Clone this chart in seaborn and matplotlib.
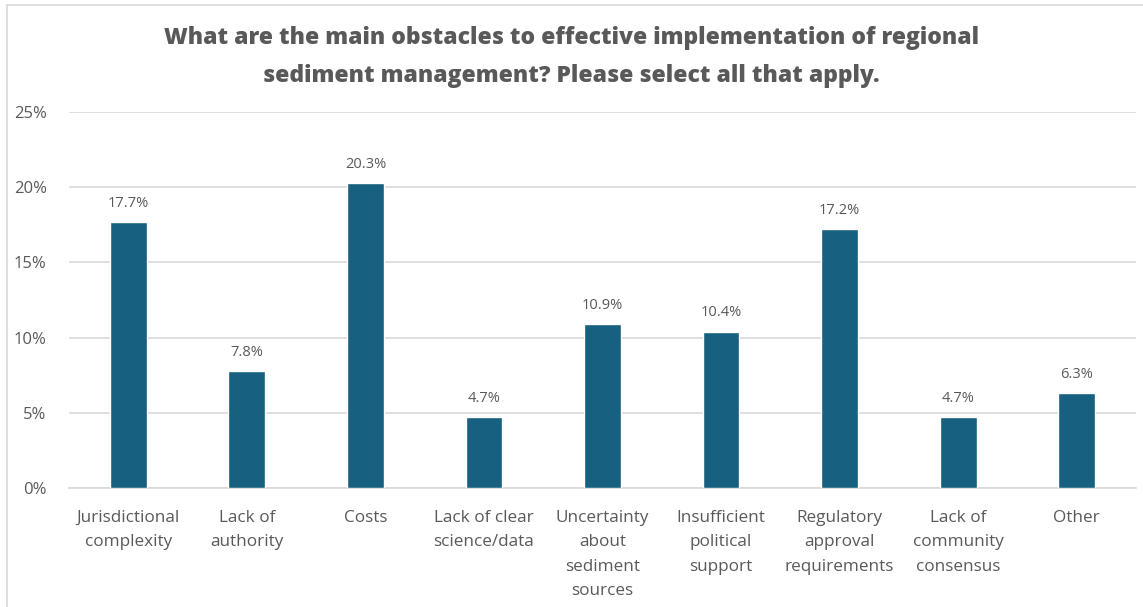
import matplotlib
matplotlib.use("Agg")
import matplotlib.pyplot as plt
import seaborn as sns
import pandas as pd
from matplotlib.lines import Line2D

categories = [
    "Jurisdictional\ncomplexity",
    "Lack of\nauthority",
    "Costs",
    "Lack of clear\nscience/data",
    "Uncertainty\nabout\nsediment\nsources",
    "Insufficient\npolitical\nsupport",
    "Regulatory\napproval\nrequirements",
    "Lack of\ncommunity\nconsensus",
    "Other",
]
values = [17.7, 7.8, 20.3, 4.7, 10.9, 10.4, 17.2, 4.7, 6.3]
y_ticks = [0, 5, 10, 15, 20, 25]
y_tick_labels = ["0%", "5%", "10%", "15%", "20%", "25%"]
title = ("What are the main obstacles to effective implementation of regional\n"
         "sediment management? Please select all that apply.")

df = pd.DataFrame({"category": categories, "value": values})

sns.set_theme(style="white")
plt.rcParams["font.family"] = ["Open Sans", "DejaVu Sans"]

text_color = "#595959"
bar_color = "#17607f"
grid_color = "#d9d9d9"

fig = plt.figure(figsize=(11.43, 6.07), dpi=100)
ax = fig.add_axes([69 / 1143, 1 - 488 / 607, (1136 - 69) / 1143, (488 - 112) / 607])

sns.barplot(data=df, x="category", y="value", color=bar_color, width=0.31,
            saturation=1, ax=ax, zorder=3)

ax.set_ylim(0, 25)
ax.set_yticks(y_ticks)
ax.set_yticklabels(y_tick_labels)
ax.yaxis.grid(True, color=grid_color, linewidth=1.2, zorder=0)
ax.set_axisbelow(True)
for side in ["top", "right", "left"]:
    ax.spines[side].set_visible(False)
ax.spines["bottom"].set_color(grid_color)
ax.spines["bottom"].set_linewidth(1.2)
ax.set_xlabel("")
ax.set_ylabel("")
ax.tick_params(axis="y", length=0, pad=16, labelsize=12, labelcolor=text_color)
ax.tick_params(axis="x", length=0, pad=16, labelsize=12.3, labelcolor=text_color)
for lbl in ax.get_yticklabels():
    lbl.set_horizontalalignment("right")
for lbl in ax.get_xticklabels():
    lbl.set_linespacing(1.68)
    lbl.set_verticalalignment("top")

for container in ax.containers:
    ax.bar_label(container, labels=[f"{v:.1f}%" for v in values], padding=8,
                 fontsize=10.5, color=text_color)

fig.text(0.5, 1 - 57 / 607, title, ha="center", va="center", fontsize=16.5,
         fontweight="heavy", color=text_color, linespacing=1.75)

# Light frame around the chart
fig.add_artist(Line2D([7 / 1143, 7 / 1143], [0, 1 - 5 / 607], transform=fig.transFigure,
                      color=grid_color, linewidth=1.2))
fig.add_artist(Line2D([7 / 1143, 1], [1 - 5 / 607, 1 - 5 / 607], transform=fig.transFigure,
                      color=grid_color, linewidth=1.2))

fig.savefig("out.png", dpi=100)
